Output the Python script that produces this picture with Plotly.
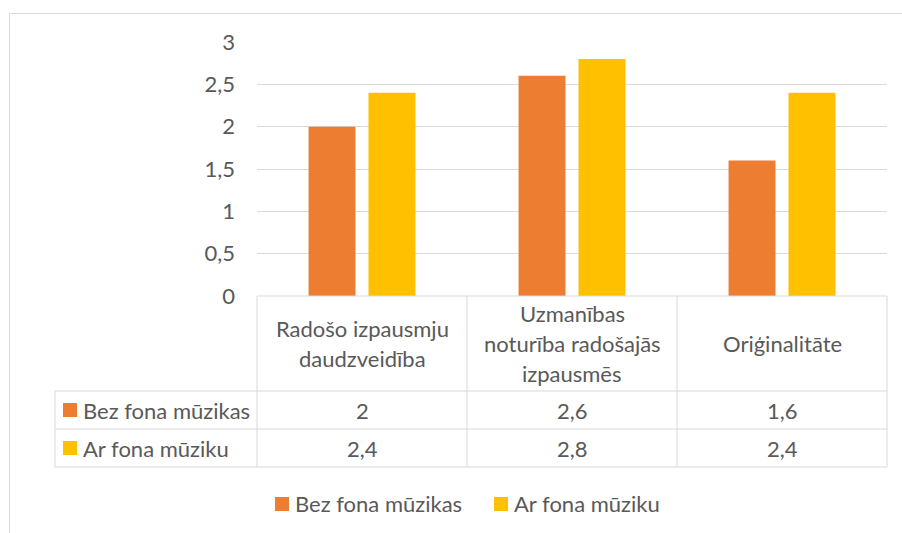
import plotly.graph_objects as go

categories = ["Radošo izpausmju<br>daudzveidība",
              "Uzmanības<br>noturība radošajās<br>izpausmēs",
              "Oriģinalitāte"]
series_names = ["Bez fona mūzikas", "Ar fona mūziku"]
bez_fona = [2, 2.6, 1.6]
ar_fona = [2.4, 2.8, 2.4]
colors = ["#ED7D31", "#FFC000"]
y_ticks = [0, 0.5, 1, 1.5, 2, 2.5, 3]

W, H = 902, 533
L, R, T, B = 257, 887, 42, 296  # plot area in pixels
FONT = "Lato"
FS = 22
TXT = "#595959"
GRID = "#D9D9D9"


def px(x):
    return (x - L) / (R - L)


def py(y):
    return (B - y) / (B - T)


def fmt(v):
    s = ("%g" % v)
    return s.replace(".", ",")


fig = go.Figure()
for name, vals, c in zip(series_names, [bez_fona, ar_fona], colors):
    fig.add_trace(go.Bar(x=list(range(len(categories))), y=vals, name=name,
                         marker=dict(color=c, line=dict(width=0)), showlegend=False))

shapes = []
ann = []


def hline(x0, x1, y):
    shapes.append(dict(type="line", xref="paper", yref="paper", x0=px(x0), x1=px(x1),
                       y0=py(y), y1=py(y), line=dict(color=GRID, width=1)))


def vline(x, y0, y1):
    shapes.append(dict(type="line", xref="paper", yref="paper", x0=px(x), x1=px(x),
                       y0=py(y0), y1=py(y1), line=dict(color=GRID, width=1)))


# outer chart border (cut off at right/bottom)
vline(9.5, 13.5, 540)
hline(9.5, 910, 13.5)

# data table grid
hline(L, R, B)
row_tops = [391, 429, 467]
for y in row_tops:
    hline(55, R, y)
vline(55, 391, 467)
ncat = len(categories)
cw = (R - L) / ncat
for i in range(ncat + 1):
    vline(L + i * cw, B, 467)

# header text (category names)
line_h = 30
hdr_c = (B + 391) / 2
for i, cat in enumerate(categories):
    lines = cat.split("<br>")
    n = len(lines)
    for j, ln in enumerate(lines):
        yc = hdr_c + (j - (n - 1) / 2) * line_h
        ann.append(dict(text=ln, x=i, xref="x", y=py(yc), yref="paper", showarrow=False,
                        xanchor="center", yanchor="middle", font=dict(family=FONT, size=FS, color=TXT)))

# table rows
row_centers = [(391 + 429) / 2, (429 + 467) / 2]
for r, (name, vals, c) in enumerate(zip(series_names, [bez_fona, ar_fona], colors)):
    yc = row_centers[r]
    shapes.append(dict(type="rect", xref="paper", yref="paper", x0=px(63), x1=px(77),
                       y0=py(yc - 7), y1=py(yc + 7), fillcolor=c, line=dict(width=0)))
    ann.append(dict(text=name, x=px(81), xref="paper", y=py(yc), yref="paper", showarrow=False,
                    xanchor="left", yanchor="middle", font=dict(family=FONT, size=FS, color=TXT)))
    for i, v in enumerate(vals):
        ann.append(dict(text=fmt(v), x=i, xref="x", y=py(yc), yref="paper", showarrow=False,
                        xanchor="center", yanchor="middle", font=dict(family=FONT, size=FS, color=TXT)))

# bottom legend
leg_y = 504
leg_x = [275, 494]
for name, c, lx in zip(series_names, colors, leg_x):
    shapes.append(dict(type="rect", xref="paper", yref="paper", x0=px(lx), x1=px(lx + 14),
                       y0=py(leg_y - 7), y1=py(leg_y + 7), fillcolor=c, line=dict(width=0)))
    ann.append(dict(text=name, x=px(lx + 18), xref="paper", y=py(leg_y), yref="paper", showarrow=False,
                    xanchor="left", yanchor="middle", font=dict(family=FONT, size=FS, color=TXT)))

fig.update_layout(
    width=W, height=H,
    margin=dict(l=L, r=W - R, t=T, b=H - B, pad=0),
    paper_bgcolor="white", plot_bgcolor="white",
    barmode="group", bargap=0.429, bargroupgap=0.217,
    separators=", ",
    shapes=shapes, annotations=ann,
    showlegend=False,
    font=dict(family=FONT, size=FS, color=TXT),
)
fig.update_xaxes(range=[-0.5, ncat - 0.5], showticklabels=False, showgrid=False,
                 zeroline=False, showline=False, ticks="", fixedrange=True)
fig.update_yaxes(range=[0, 3], tickvals=y_ticks, ticktext=[fmt(v) for v in y_ticks],
                 showgrid=True, gridcolor=GRID, gridwidth=1, zeroline=False, showline=False,
                 ticks="", ticklabelstandoff=21, fixedrange=True,
                 tickfont=dict(family=FONT, size=FS, color=TXT))

fig.write_html("out.html", config={"displayModeBar": False, "staticPlot": True},
               post_script="document.body.style.margin='0';document.body.style.padding='0';")
